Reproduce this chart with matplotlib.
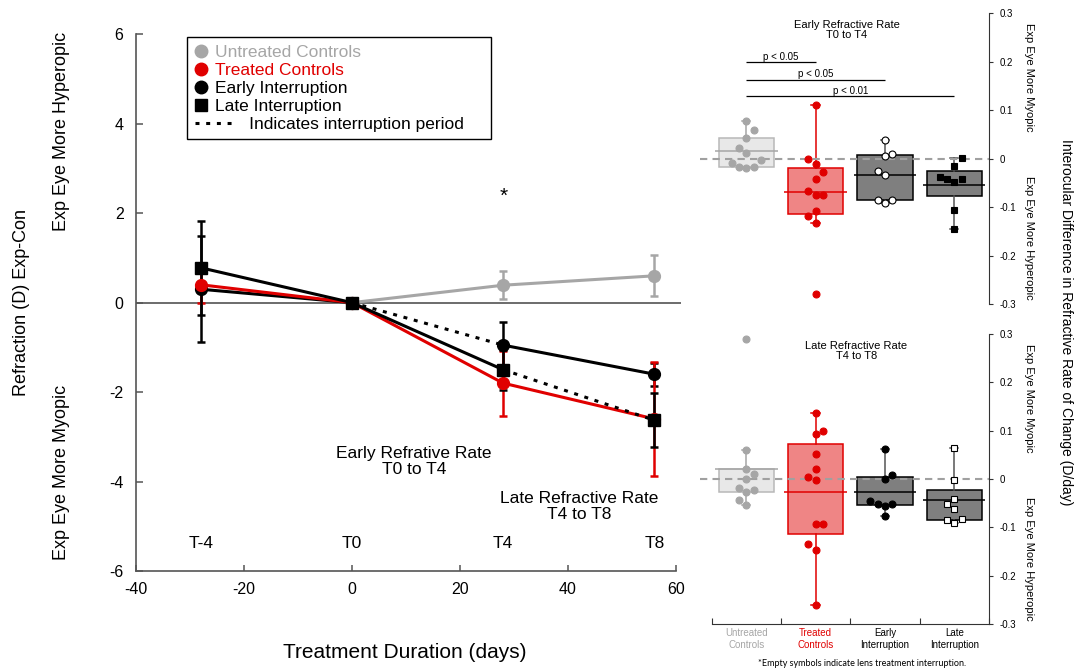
import numpy as np
import matplotlib
matplotlib.use('Agg')
import matplotlib.pyplot as plt
from matplotlib.lines import Line2D
from matplotlib.legend_handler import HandlerLine2D
from matplotlib.ticker import FuncFormatter

plt.rcParams['font.family'] = ['Liberation Sans', 'DejaVu Sans']
plt.rcParams['axes.unicode_minus'] = False

# --- DATA: refraction (D), Exp - Con, mean and error ---
DAYS = [-28, 0, 28, 56]
TIME_LABELS = ['T-4', 'T0', 'T4', 'T8']

untreated_days = [0, 28, 56]
untreated_mean = [0.0, 0.39, 0.60]
untreated_err = [0.0, 0.31, 0.46]

treated_mean = [0.40, 0.0, -1.80, -2.60]
treated_err = [0.40, 0.0, 0.73, 1.27]

early_mean = [0.30, 0.0, -0.95, -1.60]
early_err = [1.19, 0.0, 0.51, 0.26]

late_mean = [0.78, 0.0, -1.50, -2.63]
late_err = [1.05, 0.0, 0.45, 0.60]

# time segment (index pair) where lens treatment was interrupted
early_gap = (1, 2)
late_gap = (2, 3)

# --- DATA: interocular difference in refractive rate (D/day) ---
CATEGORIES = ['Untreated\nControls', 'Treated\nControls', 'Early\nInterruption', 'Late\nInterruption']

early_rate_untreated = [0.078, 0.059, 0.043, 0.021, 0.012, -0.002, -0.008, -0.017, -0.017, -0.019]
early_rate_treated = [0.110, -0.001, -0.011, -0.027, -0.041, -0.066, -0.074, -0.074, -0.108, -0.119, -0.133, -0.280]
early_rate_early = [0.038, 0.009, 0.006, -0.025, -0.034, -0.085, -0.085, -0.092]
early_rate_late = [0.002, -0.015, -0.037, -0.041, -0.043, -0.048, -0.106, -0.146]

late_rate_untreated = [0.290, 0.060, 0.021, 0.011, 0.000, -0.018, -0.022, -0.027, -0.044, -0.054]
late_rate_treated = [0.136, 0.100, 0.094, 0.052, 0.021, 0.004, -0.002, -0.093, -0.094, -0.135, -0.146, -0.261]
late_rate_early = [0.062, 0.009, 0.001, -0.045, -0.051, -0.052, -0.055, -0.076]
late_rate_late = [0.065, -0.003, -0.041, -0.051, -0.063, -0.083, -0.085, -0.092]

# significance brackets in the early-rate panel: (group a, group b, height, label)
early_brackets = [(0, 1, 0.199, 'p < 0.05'), (0, 2, 0.163, 'p < 0.05'), (0, 3, 0.129, 'p < 0.01')]

# --- STYLE ---
GRAY = '#a6a6a6'
RED = '#e00000'
W, H = 1078, 669

fig = plt.figure(figsize=(W / 100, H / 100), dpi=100)


def px_axes(left, top, right, bottom):
    return fig.add_axes([left / W, 1 - bottom / H, (right - left) / W, (bottom - top) / H])


# ================= LEFT: refraction vs time =================
ax = px_axes(136, 34.3, 681.4, 571)
ax.set_xlim(-40, 61)
ax.set_ylim(-6, 6)
ax.axhline(0, color='#444444', lw=1.1, zorder=1)

DOTS = (0, (1.3, 2.2))


def draw_series(x, y, err, color, marker, gap=None):
    ax.errorbar(x, y, yerr=err, fmt='none', ecolor=color, elinewidth=1.8,
                capsize=3, capthick=1.8, zorder=2)
    for i in range(len(x) - 1):
        ls = DOTS if gap == (i, i + 1) else '-'
        ax.plot(x[i:i + 2], y[i:i + 2], color=color, lw=2.2, ls=ls,
                dash_capstyle='butt', zorder=3)
    ax.plot(x, y, ls='none', marker=marker, color=color, ms=8.5, zorder=4)


draw_series(untreated_days, untreated_mean, untreated_err, GRAY, 'o')
draw_series(DAYS, early_mean, early_err, 'black', 'o', early_gap)
draw_series(DAYS, treated_mean, treated_err, RED, 'o')
draw_series(DAYS, late_mean, late_err, 'black', 's', late_gap)

for d, lab in zip(DAYS, TIME_LABELS):
    ax.text(d, -5.38, lab, ha='center', va='center', fontsize=12.5)
ax.text(28, 2.37, '*', ha='center', va='center', fontsize=15)
ax.text(11.5, -3.55, 'Early Refrative Rate\nT0 to T4', ha='center', va='center',
        fontsize=12.5, linespacing=1.15)
ax.text(42, -4.56, 'Late Refractive Rate\nT4 to T8', ha='center', va='center',
        fontsize=12.5, linespacing=1.15)

ax.spines[['top', 'right']].set_visible(False)
ax.spines['bottom'].set_bounds(-40, 60)
for s in ('left', 'bottom'):
    ax.spines[s].set_color('#555555')
    ax.spines[s].set_linewidth(1.2)
ax.set_xticks([-40, -20, 0, 20, 40, 60])
ax.set_yticks([-6, -4, -2, 0, 2, 4, 6])
ax.tick_params(axis='y', direction='in', length=5, width=1.1, color='#555555',
               labelsize=11.5, pad=9)
ax.tick_params(axis='x', direction='in', length=4, width=1.1, color='#555555',
               labelsize=11.5, pad=8)


class LongDotted(HandlerLine2D):
    def get_xdata(self, legend, xdescent, ydescent, width, height, fontsize):
        return (np.array([-xdescent, -xdescent + 3.3 * width]),
                np.array([-xdescent + width / 2]))


dotted_handle = Line2D([], [], color='black', lw=2.2, ls=DOTS, dash_capstyle='butt')
handles = [
    Line2D([], [], ls='none', marker='o', color=GRAY, ms=9),
    Line2D([], [], ls='none', marker='o', color=RED, ms=9),
    Line2D([], [], ls='none', marker='o', color='black', ms=9),
    Line2D([], [], ls='none', marker='s', color='black', ms=9),
    dotted_handle,
]
labels = ['Untreated Controls', 'Treated Controls', 'Early Interruption',
          'Late Interruption', '       Indicates interruption period    ']
leg = ax.legend(handles, labels, loc='upper left', bbox_to_anchor=(0.0935, 0.995),
                fontsize=12.5, fancybox=False, edgecolor='black', framealpha=1,
                borderpad=0.45, labelspacing=0.16, handlelength=0.7,
                handletextpad=0.45, borderaxespad=0,
                handler_map={dotted_handle: LongDotted()})
leg.get_frame().set_linewidth(1.0)
for t, c in zip(leg.get_texts(), [GRAY, RED, 'black', 'black', 'black']):
    t.set_color(c)

fig.text(22 / W, 1 - 303 / H, 'Refraction (D) Exp-Con', rotation=90,
         ha='center', va='center', fontsize=13)
fig.text(62 / W, 1 - 131 / H, 'Exp Eye More Hyperopic', rotation=90,
         ha='center', va='center', fontsize=13)
fig.text(62 / W, 1 - 472 / H, 'Exp Eye More Myopic', rotation=90,
         ha='center', va='center', fontsize=13)
fig.text(405 / W, 1 - 652 / H, 'Treatment Duration (days)', ha='center',
         va='center', fontsize=15)

# ================= RIGHT: rate box plots =================
BOX_STYLE = [
    dict(face='#e8e8e8', edge='#b8b8b8', line=GRAY, point=GRAY),
    dict(face='#ef8585', edge=RED, line=RED, point=RED),
    dict(face='#7f7f7f', edge='black', line='#555555', point='black'),
    dict(face='#7f7f7f', edge='black', line='#555555', point='black'),
]
SLOT = 0.106


def swarm(vals, gap=0.019):
    slots = np.zeros(len(vals), int)
    placed = []
    for i in np.argsort(vals, kind='stable'):
        v = vals[i]
        k = 0
        while True:
            cands = [0] if k == 0 else [-k, k]
            free = [s for s in cands
                    if all(abs(v - pv) >= gap for ps, pv in placed if ps == s)]
            if free:
                if len(free) == 2:
                    neg = sum(1 for ps, _ in placed if ps < 0)
                    pos = sum(1 for ps, _ in placed if ps > 0)
                    s = k if pos < neg else -k
                else:
                    s = free[0]
                break
            k += 1
        slots[i] = s
        placed.append((s, v))
    return slots


def rate_panel(ax, groups, markers, hollow):
    ax.axhline(0, color='#a0a0a0', lw=1.5, dashes=(3.5, 2.5), zorder=3)
    for i, vals in enumerate(groups):
        vals = np.asarray(vals, float)
        st = BOX_STYLE[i]
        q1, q3 = np.percentile(vals, [25, 75], method='hazen')
        iqr = q3 - q1
        lo = vals[vals >= q1 - 1.5 * iqr].min()
        hi = vals[vals <= q3 + 1.5 * iqr].max()
        stats = [dict(med=vals.mean(), q1=q1, q3=q3, whislo=lo, whishi=hi, fliers=[])]
        ax.bxp(stats, positions=[i], widths=0.8, patch_artist=True, showfliers=False,
               capwidths=0.12, manage_ticks=False, zorder=2,
               boxprops=dict(facecolor=st['face'], edgecolor=st['edge'], lw=1.1),
               whiskerprops=dict(color=st['line'], lw=1.1),
               capprops=dict(color=st['line'], lw=1.1),
               medianprops=dict(lw=0))
        mean_col = 'black' if i >= 2 else st['line']
        ax.hlines(vals.mean(), i - 0.45, i + 0.45, color=mean_col, lw=1.1, zorder=4)
        slots = swarm(vals)
        face = 'white' if hollow[i] else st['point']
        ax.plot(i + slots * SLOT, vals, ls='none', marker=markers[i], mfc=face,
                mec=st['point'], mew=0.8, ms=5.0, zorder=5)

    ax.set_xlim(-0.67, 3.5)
    ax.set_ylim(-0.3, 0.3)
    ax.spines[['left', 'top']].set_visible(False)
    ax.spines['right'].set_color('#333333')
    ax.yaxis.tick_right()
    ax.set_yticks([-0.3, -0.2, -0.1, 0, 0.1, 0.2, 0.3])
    ax.yaxis.set_major_formatter(FuncFormatter(lambda v, _: f'{v:g}'))
    ax.tick_params(axis='y', direction='out', length=3, width=0.8, color='#333333',
                   labelsize=7, pad=5)


ax_t = px_axes(699.9, 13.3, 988.9, 304)
rate_panel(ax_t, [early_rate_untreated, early_rate_treated, early_rate_early, early_rate_late],
           ['o', 'o', 'o', 's'], [False, False, True, False])
ax_t.spines['bottom'].set_visible(False)
ax_t.set_xticks([])
for a, b, y, lab in early_brackets:
    ax_t.hlines(y, a, b, color='black', lw=0.9)
    ax_t.text((a + b) / 2, y + 0.001, lab, ha='center', va='bottom', fontsize=7)
ax_t.text(1.45, 0.266, 'Early Refractive Rate\nT0 to T4', ha='center', va='center',
          fontsize=8, linespacing=1.05)

ax_b = px_axes(699.9, 334, 988.9, 624)
rate_panel(ax_b, [late_rate_untreated, late_rate_treated, late_rate_early, late_rate_late],
           ['o', 'o', 'o', 's'], [False, False, False, True])
ax_b.text(1.59, 0.265, 'Late Refractive Rate\nT4 to T8', ha='center', va='center',
          fontsize=8, linespacing=1.05)
ax_b.spines['bottom'].set_bounds(-0.5, 3.5)
ax_b.spines['bottom'].set_color('#333333')
ax_b.set_xticks(range(len(CATEGORIES)))
ax_b.set_xticklabels(CATEGORIES, fontsize=7, linespacing=1.2)
ax_b.set_xticks(np.arange(len(CATEGORIES) + 1) - 0.5, minor=True)
ax_b.tick_params(axis='x', which='major', length=0, pad=3)
ax_b.tick_params(axis='x', which='minor', direction='in', length=4, width=0.8,
                 color='#333333')
for t, c in zip(ax_b.get_xticklabels(), [GRAY, RED, 'black', 'black']):
    t.set_color(c)

for yc, lab in [(77, 'Exp Eye More Myopic'), (238, 'Exp Eye More Hyperopic'),
                (398, 'Exp Eye More Myopic'), (559, 'Exp Eye More Hyperopic')]:
    fig.text(1029 / W, 1 - yc / H, lab, rotation=-90, ha='center', va='center', fontsize=8)
fig.text(1066 / W, 1 - 322 / H, 'Interocular Difference in Refractive Rate of Change (D/day)',
         rotation=-90, ha='center', va='center', fontsize=10)
fig.text(862 / W, 1 - 663 / H, '*Empty symbols indicate lens treatment interruption.',
         ha='center', va='center', fontsize=6.5, family=['Lato', 'DejaVu Sans'])

fig.savefig('out.png', dpi=100)
